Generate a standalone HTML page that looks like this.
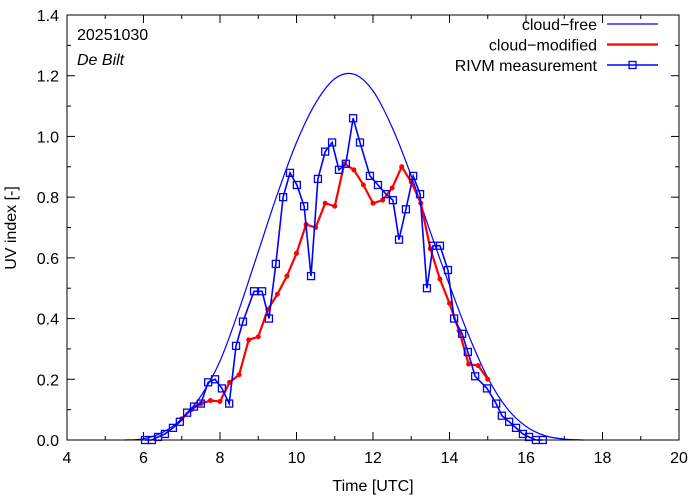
<!DOCTYPE html>
<html><head><meta charset="utf-8"><style>
body{margin:0;background:#fff}
svg{display:block;font-family:"Liberation Sans",sans-serif}
</style></head><body>
<svg id="chart" width="694" height="501" viewBox="0 0 694 501"></svg>
<script>
const cfT=[5.5,6,6.5,7,7.5,8,8.5,9,9.5,10,10.5,11,11.5,12,12.5,13,13.5,14,14.5,15,15.5,16,16.5,17,17.5];
const cfV=[0,0.004,0.025,0.07,0.145,0.26,0.43,0.62,0.81,0.98,1.11,1.19,1.205,1.15,1.03,0.87,0.685,0.51,0.345,0.205,0.105,0.045,0.014,0.003,0];
const cmT=[7,7.25,7.5,7.75,8,8.25,8.5,8.75,9,9.25,9.5,9.75,10,10.25,10.5,10.75,11,11.25,11.5,11.75,12,12.25,12.5,12.75,13,13.25,13.5,13.75,14,14.25,14.5,14.75,15];
const cmV=[0.07,0.10,0.12,0.13,0.127,0.19,0.215,0.33,0.34,0.43,0.48,0.54,0.615,0.71,0.70,0.78,0.77,0.91,0.89,0.84,0.78,0.79,0.83,0.90,0.85,0.78,0.63,0.53,0.45,0.36,0.25,0.245,0.20];
const msT=[6.04,6.22,6.38,6.56,6.77,6.95,7.14,7.32,7.50,7.69,7.87,8.05,8.24,8.42,8.60,8.89,9.10,9.28,9.46,9.65,9.83,10.01,10.20,10.38,10.56,10.75,10.93,11.11,11.29,11.48,11.66,11.92,12.13,12.34,12.52,12.68,12.86,13.05,13.23,13.41,13.57,13.75,13.96,14.12,14.33,14.48,14.67,14.98,15.22,15.37,15.56,15.74,15.92,16.08,16.26,16.44];
const msV=[0,0,0.01,0.02,0.04,0.06,0.09,0.11,0.12,0.19,0.20,0.17,0.12,0.31,0.39,0.49,0.49,0.40,0.58,0.80,0.88,0.84,0.77,0.54,0.86,0.95,0.98,0.89,0.91,1.06,0.98,0.87,0.84,0.81,0.79,0.66,0.76,0.87,0.81,0.50,0.64,0.64,0.56,0.40,0.35,0.29,0.21,0.17,0.12,0.08,0.06,0.04,0.02,0.01,0,0];
const xTicks=[4,6,8,10,12,14,16,18,20];
const yTicks=[0,0.2,0.4,0.6,0.8,1.0,1.2,1.4];

const L=67,R=679,T=15,B=440;
const X=t=>L+(t-4)*(R-L)/16;
const Y=v=>B-v*(B-T)/1.4;
const svg=document.getElementById('chart');
const NS='http://www.w3.org/2000/svg';
function mk(tag,attrs,parent){const e=document.createElementNS(NS,tag);for(const k in attrs)e.setAttribute(k,attrs[k]);(parent||svg).appendChild(e);return e;}

const tg=mk('g',{stroke:'#000','stroke-width':1});


for(let t=4;t<=20;t++){const len=(t%2===0)?8:4;const x=X(t);
 mk('line',{x1:x,y1:B,x2:x,y2:B-len},tg);mk('line',{x1:x,y1:T,x2:x,y2:T+len},tg);}
for(let i=0;i<=14;i++){const v=i/10;const len=(i%2===0)?8:4;const y=Y(v);
 mk('line',{x1:L,y1:y,x2:L+len,y2:y},tg);mk('line',{x1:R,y1:y,x2:R-len,y2:y},tg);}

xTicks.forEach(t=>{const e=mk('text',{x:X(t),y:B+23,'text-anchor':'middle','font-size':16});e.textContent=t;
 
 });
yTicks.forEach(v=>{const e=mk('text',{x:L-8,y:Y(v)+6,'text-anchor':'end','font-size':16});e.textContent=v.toFixed(1);
 
 });

let e=mk('text',{x:373,y:491,'text-anchor':'middle','font-size':16,'xml:space':'preserve'});e.textContent='Time  [UTC]';


e=mk('text',{x:0,y:0,'text-anchor':'middle','font-size':16,transform:'translate(16,228) rotate(-90)','xml:space':'preserve'});e.textContent='UV index  [-]';



const pts=cfT.map((t,i)=>[X(t),Y(cfV[i])]);
let d='M'+pts[0][0]+','+pts[0][1];
for(let i=0;i<pts.length-1;i++){const p0=pts[Math.max(0,i-1)],p1=pts[i],p2=pts[i+1],p3=pts[Math.min(pts.length-1,i+2)];
 d+=' C'+(p1[0]+(p2[0]-p0[0])/6)+','+(p1[1]+(p2[1]-p0[1])/6)+' '+(p2[0]-(p3[0]-p1[0])/6)+','+(p2[1]-(p3[1]-p1[1])/6)+' '+p2[0]+','+p2[1];}
e=mk('path',{d:d,fill:'none',stroke:'#0000ff','stroke-width':1.2});



e=mk('polyline',{points:cmT.map((t,i)=>X(t)+','+Y(cmV[i])).join(' '),fill:'none',stroke:'#ff0000','stroke-width':2.2});


cmT.forEach((t,i)=>{const c=mk('circle',{cx:X(t),cy:Y(cmV[i]),r:2.5,fill:'#ff0000'});
 
 });

e=mk('polyline',{points:msT.map((t,i)=>X(t)+','+Y(msV[i])).join(' '),fill:'none',stroke:'#0000ff','stroke-width':1.6});


msT.forEach((t,i)=>{const r=mk('rect',{x:X(t)-3.5,y:Y(msV[i])-3.5,width:7,height:7,fill:'none',stroke:'#0000ff','stroke-width':1.3});
 
 });

e=mk('rect',{x:L,y:T,width:R-L,height:B-T,fill:'none',stroke:'#000','stroke-width':1});



e=mk('text',{x:77,y:40,'font-size':16});e.textContent='20251030';


e=mk('text',{x:77,y:65,'font-size':16,'font-style':'italic'});e.textContent='De Bilt';



const lg=[['cloud\u2212free','#0000ff',1.2,false],['cloud\u2212modified','#ff0000',2.2,false],['RIVM measurement','#0000ff',1.6,true]];
lg.forEach((l,i)=>{const y=24+i*20.5;
 const g=mk('g',{});
 
 
 const tx=mk('text',{x:597,y:y+6,'text-anchor':'end','font-size':16},g);tx.textContent=l[0];
 mk('line',{x1:607,y1:y,x2:658,y2:y,stroke:l[1],'stroke-width':l[2]},g);
 if(l[3])mk('rect',{x:629,y:y-3.5,width:7,height:7,fill:'none',stroke:l[1],'stroke-width':1.3},g);});
</script>
</body></html>
